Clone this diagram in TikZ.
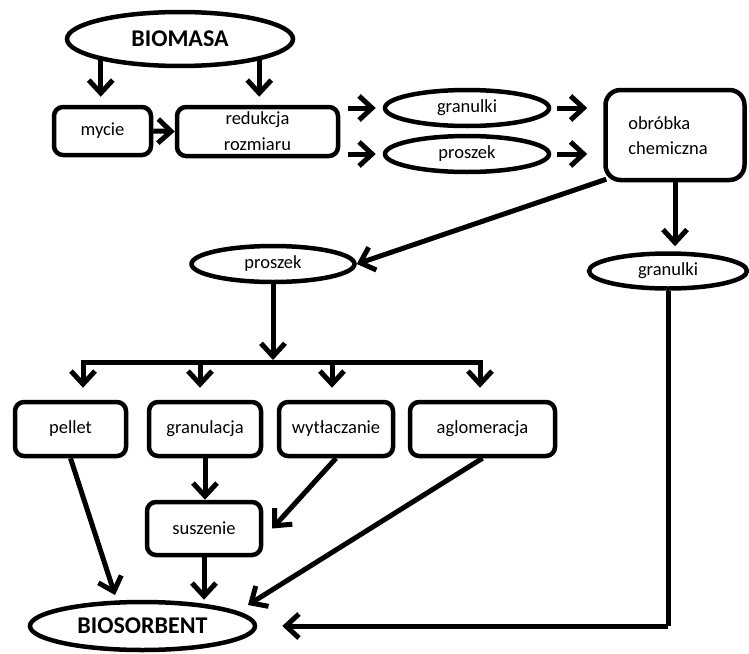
\documentclass[tikz,border=0pt]{standalone}
\usepackage{fontspec}
\setmainfont{Carlito}
\usetikzlibrary{shapes.geometric,arrows.meta}
\tikzset{
  ln/.style={line width=5pt},
  arr/.style={line width=5pt,-{Straight Barb[length=13pt,width=24pt]}},
  box/.style={draw,line width=4.5pt,rounded corners=9pt,inner sep=0pt,align=center,font=\fontsize{18.5}{26}\selectfont},
  oval/.style={draw,ellipse,line width=4.5pt,inner sep=0pt,font=\fontsize{18.5}{22}\selectfont},
  bigoval/.style={draw,ellipse,line width=4.5pt,inner sep=0pt,font=\bfseries\fontsize{24}{26}\selectfont},
}
\begin{document}
\begin{tikzpicture}[x=1pt,y=-1pt]
\useasboundingbox (0,0) rectangle (749,653);
% nodes
\node[bigoval,minimum width=226pt,minimum height=54pt] (biomasa) at (180,39) {BIOMASA};
\node[box,minimum width=97pt,minimum height=48pt] (mycie) at (102.5,131) {mycie};
\node[box,minimum width=161pt,minimum height=49pt] (red) at (257.5,131.5) {redukcja\\rozmiaru};
\node[oval,minimum width=164pt,minimum height=36pt] (gran1) at (467,108) {granulki};
\node[oval,minimum width=164pt,minimum height=36pt] (pros1) at (467,154) {proszek};
\node[box,rounded corners=15pt,minimum width=139pt,minimum height=90pt] (obr) at (675,135) {};
\node[font=\fontsize{18.5}{25}\selectfont,align=left] (obrt) at (668,136) {obróbka\\chemiczna};
\node[oval,minimum width=163pt,minimum height=36pt] (pros2) at (273,264) {proszek};
\node[oval,minimum width=158pt,minimum height=35pt] (gran2) at (668,271) {granulki};
\node[box,minimum width=111pt,minimum height=54pt] (pellet) at (70.5,429) {pellet};
\node[box,minimum width=112pt,minimum height=54pt] (granu) at (205,429) {granulacja};
\node[box,minimum width=114pt,minimum height=54pt] (wyt) at (336,429) {wytłaczanie};
\node[box,minimum width=145pt,minimum height=54pt] (aglo) at (482.5,429) {aglomeracja};
\node[box,minimum width=114pt,minimum height=53pt] (susz) at (204,528.5) {suszenie};
\node[bigoval,minimum width=225pt,minimum height=48pt] (bios) at (142.5,626) {BIOSORBENT};
% bar coordinates
\coordinate (b1) at (83,362);
\coordinate (b2) at (200,362);
\coordinate (b3) at (332,362);
\coordinate (b4) at (480,362);
% connectors
\draw[arr,shorten >=8pt] (biomasa.195) -- (biomasa.195 |- mycie.north);
\draw[arr,shorten >=8pt] (biomasa.-15) -- (biomasa.-15 |- red.north);
\draw[arr] (mycie.east) -- (red.west);
\draw[arr,shorten <=8pt,shorten >=7pt] (red.east |- gran1.west) -- (gran1.west);
\draw[arr,shorten <=8pt,shorten >=7pt] (red.east |- pros1.west) -- (pros1.west);
\draw[arr,shorten <=6pt,shorten >=16pt] (gran1.east) -- (gran1.east -| obr.west);
\draw[arr,shorten <=6pt,shorten >=16pt] (pros1.east) -- (pros1.east -| obr.west);
\draw[arr] ([shift={(3pt,3pt)}]obr.south west) -- (pros2.east);
\draw[arr,shorten >=5pt] (obr.south) -- (obr.south |- gran2.north);
\draw[ln] (gran2.south) -- (gran2.south |- bios.east);
\draw[arr,shorten >=25pt] (gran2.south |- bios.east) -- (bios.east);
\draw[arr,shorten >=2pt] (pros2.south) -- (pros2.south |- b1);
\draw[ln,line cap=rect] (b1) -- (b4);
\draw[arr,shorten >=12pt] (b1) -- (b1 |- pellet.north);
\draw[arr,shorten >=12pt] (b2) -- (b2 |- granu.north);
\draw[arr,shorten >=12pt] (b3) -- (b3 |- wyt.north);
\draw[arr,shorten >=12pt] (b4) -- (b4 |- aglo.north);
\draw[arr] (pellet.south) -- ([shift={(-27.5pt,31pt)}]bios.center);
\draw[arr] (granu.south) -- (granu.south |- susz.north);
\draw[arr] (wyt.south) -- ([xshift=9pt]susz.east);
\draw[arr] (susz.south) -- (susz.south |- bios.north);
\draw[arr] (aglo.south) -- ([shift={(105.5pt,21pt)}]bios.center);
\end{tikzpicture}
\end{document}
